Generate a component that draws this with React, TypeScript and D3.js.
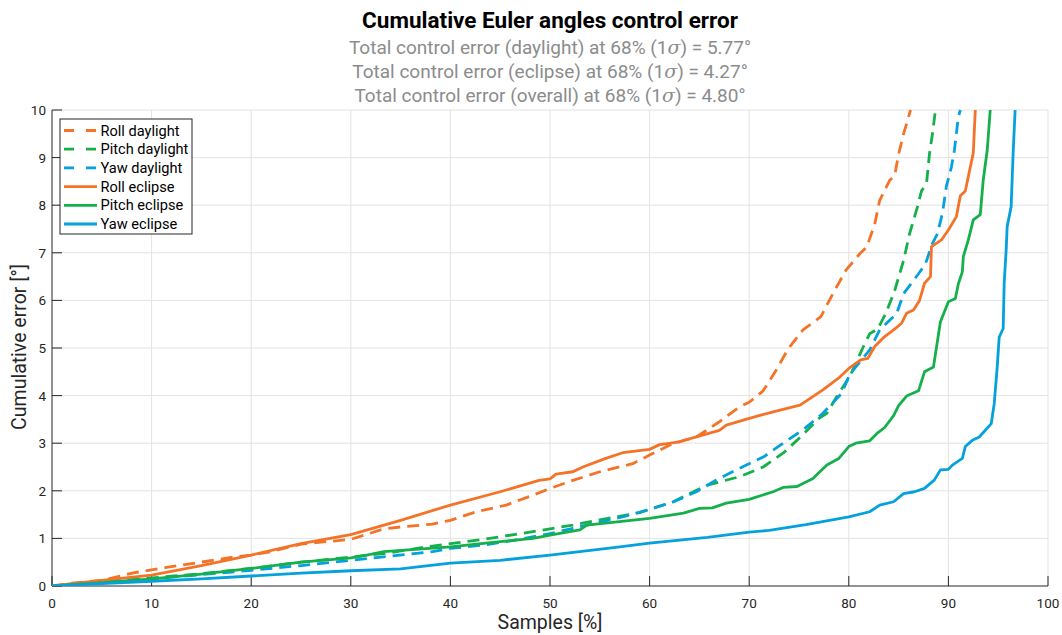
import React from "react";
import * as d3 from "d3";

type Pt = [number, number];

const xTicks = [0, 10, 20, 30, 40, 50, 60, 70, 80, 90, 100];
const yTicks = [0, 1, 2, 3, 4, 5, 6, 7, 8, 9, 10];

const titleText = "Cumulative Euler angles control error";
const subtitleLabels = ["daylight", "eclipse", "overall"];
const subtitleValues = ["5.77", "4.27", "4.80"];

const seriesNames = ["Roll daylight", "Pitch daylight", "Yaw daylight", "Roll eclipse", "Pitch eclipse", "Yaw eclipse"];

const rollDaylight: Pt[] = [[0,0],[2,0.06],[5,0.12],[8.3,0.28],[11.5,0.39],[14,0.47],[18,0.6],[20,0.65],[22,0.72],[25,0.88],[30,0.98],[33.3,1.2],[35,1.24],[38.2,1.3],[40,1.38],[42.6,1.56],[45.6,1.7],[48.3,1.91],[50,2.05],[52.3,2.22],[55,2.4],[58.3,2.57],[60,2.75],[62.4,3.0],[64.7,3.13],[67,3.45],[69,3.76],[70,3.86],[71.4,4.1],[72.7,4.53],[73.9,4.98],[75.4,5.38],[77.2,5.66],[78.4,6.14],[79.7,6.63],[81.1,6.98],[81.8,7.12],[82.6,7.6],[83.1,8.1],[84.1,8.52],[84.6,8.62],[85,9.07],[85.5,9.5],[86.2,10]];
const pitchDaylight: Pt[] = [[0,0],[5,0.08],[10,0.17],[15,0.26],[20,0.37],[25,0.5],[30,0.61],[33.3,0.68],[38.2,0.84],[40,0.89],[43.3,0.98],[46.4,1.08],[50,1.2],[52.3,1.28],[55,1.39],[59,1.54],[60,1.61],[62.4,1.77],[64,1.94],[65.8,2.12],[69.1,2.3],[71.4,2.5],[73.4,2.79],[75.2,3.14],[77,3.52],[77.8,3.63],[79,4.05],[80.1,4.4],[81.4,5.0],[82.1,5.3],[82.9,5.4],[83.7,5.72],[84.6,6.2],[85.5,6.84],[86.1,7.4],[86.9,7.97],[87.3,8.3],[87.8,8.45],[88.1,9.08],[88.4,9.5],[88.7,10]];
const yawDaylight: Pt[] = [[0,0],[5,0.07],[10,0.15],[15,0.24],[20,0.33],[25,0.43],[30,0.54],[34.9,0.65],[38.2,0.72],[40,0.79],[43.3,0.86],[46.4,0.96],[50,1.1],[52.3,1.21],[56,1.39],[57.6,1.47],[60,1.61],[62.4,1.77],[64.7,1.98],[66.7,2.23],[69.1,2.48],[71.5,2.72],[73.4,3.0],[75.4,3.28],[77.4,3.63],[79.3,4.05],[80.1,4.45],[82.1,4.96],[83.1,5.38],[84.8,5.72],[85.5,6.14],[86,6.28],[87,6.56],[87.7,6.77],[88.4,7.2],[88.9,7.4],[89.4,7.83],[89.8,8.4],[90.3,8.8],[90.6,9.15],[91,9.86],[91.2,10]];
const rollEclipse: Pt[] = [[0,0],[2,0.05],[5,0.12],[10,0.23],[15,0.43],[20,0.65],[25,0.89],[30,1.08],[35,1.38],[40,1.7],[45,1.98],[48.9,2.22],[50,2.25],[50.6,2.35],[52.3,2.4],[53.3,2.5],[55.6,2.68],[57.3,2.8],[60,2.87],[61,2.97],[63,3.03],[65.3,3.17],[67,3.27],[67.7,3.38],[70,3.52],[72.4,3.66],[75.1,3.8],[77.4,4.12],[79.1,4.39],[80,4.57],[81.2,4.75],[81.9,4.78],[82.6,5.03],[83.6,5.24],[84.5,5.38],[85.3,5.52],[85.8,5.73],[86.5,5.8],[87.1,6.0],[87.6,6.36],[88.2,6.5],[88.3,7.13],[89.3,7.27],[90,7.48],[90.8,7.76],[91.2,8.2],[91.7,8.3],[92,8.6],[92.5,9.1],[92.7,10]];
const pitchEclipse: Pt[] = [[0,0],[5,0.07],[10,0.15],[15,0.25],[20,0.37],[25,0.5],[30,0.59],[31.6,0.65],[33.3,0.72],[40,0.82],[45,0.93],[48.3,1.0],[50,1.07],[53,1.18],[53.7,1.28],[60,1.42],[63.4,1.53],[65,1.63],[66.3,1.64],[67.7,1.74],[70,1.82],[72.4,1.98],[73.4,2.07],[74.8,2.09],[76.4,2.26],[77.8,2.54],[79,2.68],[80,2.93],[80.7,3.0],[82.1,3.05],[82.8,3.2],[83.6,3.33],[84.5,3.58],[85,3.79],[85.8,3.99],[87,4.1],[87.6,4.5],[88.5,4.6],[89.2,5.55],[90,5.97],[90.7,6.04],[91,6.35],[91.4,6.6],[91.5,6.92],[92,7.27],[92.5,7.69],[93.2,7.8],[93.5,8.53],[93.9,9.16],[94.2,10]];
const yawEclipse: Pt[] = [[0,0],[5,0.05],[10,0.1],[15,0.15],[20,0.21],[25,0.27],[30,0.32],[35,0.36],[40,0.48],[45,0.54],[50,0.65],[56.6,0.81],[60,0.9],[65.8,1.02],[70,1.13],[72,1.17],[75.7,1.29],[80,1.45],[82.1,1.56],[83.1,1.7],[84.5,1.77],[85.5,1.94],[86.6,1.98],[87.6,2.05],[88.6,2.23],[89.2,2.44],[90,2.45],[90.4,2.54],[91.4,2.68],[91.7,2.93],[92.4,3.06],[93.1,3.13],[94.3,3.41],[94.6,3.83],[94.9,4.6],[95.1,5.23],[95.5,5.41],[95.6,6.36],[95.8,7.06],[95.9,7.55],[96.3,7.97],[96.5,9.1],[96.7,10]];

const ORANGE = "#F47328";
const GREEN = "#15B04B";
const BLUE = "#05A1DC";

const seriesData = [rollDaylight, pitchDaylight, yawDaylight, rollEclipse, pitchEclipse, yawEclipse];
const seriesColors = [ORANGE, GREEN, BLUE, ORANGE, GREEN, BLUE];
const seriesDashed = [true, true, true, false, false, false];

const W = 1062, H = 635;
const M = { left: 52, right: 1048, top: 110, bottom: 586 };
const FONT = "Roboto, 'Liberation Sans', Arial, sans-serif";
const AXC = "#262626";

export default function App() {
  const x = d3.scaleLinear().domain([0, 100]).range([M.left, M.right]);
  const y = d3.scaleLinear().domain([0, 10]).range([M.bottom, M.top]);
  const line = d3.line<Pt>().x(d => x(d[0])).y(d => y(d[1]));

  const legX = 60, legY = 119, legW = 132, legH = 115, rowH = 18.7;

  return (
    <svg width={W} height={H} style={{ position: "absolute", left: 0, top: 0, display: "block", background: "#fff" }} fontFamily={FONT}>
      <rect x={0} y={0} width={W} height={H} fill="#fff" />
      <defs>
        <clipPath id="plotclip">
          <rect x={M.left} y={M.top - 2} width={M.right - M.left + 2} height={M.bottom - M.top + 2} />
        </clipPath>
      </defs>
      <g stroke="#e3e3e3" strokeWidth={1}>
        {xTicks.filter(t => t > 0).map(t => (
          <line key={"gx" + t} x1={x(t)} x2={x(t)} y1={M.top} y2={M.bottom} />
        ))}
        {yTicks.filter(t => t > 0).map(t => (
          <line key={"gy" + t} x1={M.left} x2={M.right} y1={y(t)} y2={y(t)} />
        ))}
      </g>
      <g stroke={AXC} strokeWidth={1}>
        <line x1={M.left} x2={M.left} y1={M.top} y2={M.bottom} />
        <line x1={M.left} x2={M.right} y1={M.bottom} y2={M.bottom} />
        {xTicks.map(t => (
          <line key={"tx" + t} x1={x(t)} x2={x(t)} y1={M.bottom} y2={M.bottom - 10} />
        ))}
        {yTicks.map(t => (
          <line key={"ty" + t} x1={M.left} x2={M.left + 10} y1={y(t)} y2={y(t)} />
        ))}
      </g>
      <g fill={AXC} fontSize={13.5}>
        {xTicks.map(t => (
          <text key={"lx" + t} x={x(t)} y={M.bottom + 22} textAnchor="middle">{t}</text>
        ))}
        {yTicks.map(t => (
          <text key={"ly" + t} x={M.left - 6} y={y(t) + 5} textAnchor="end">{t}</text>
        ))}
      </g>
      <g clipPath="url(#plotclip)" fill="none" strokeWidth={2.8} strokeLinejoin="round">
        {seriesData.map((d, i) => (
          <path key={"s" + i} d={line(d) || ""} stroke={seriesColors[i]} strokeDasharray={seriesDashed[i] ? "12,7" : undefined} />
        ))}
      </g>
      <text x={550} y={28} textAnchor="middle" fontSize={22.5} fontWeight="bold" fill="#000">{titleText}</text>
      {subtitleLabels.map((lab, i) => (
        <text key={"st" + i} x={550} y={54 + i * 24} textAnchor="middle" fontSize={19} fill="#8c8c8c">
          {`Total control error (${lab}) at 68% (1`}
          <tspan fontStyle="italic" fontFamily="'DejaVu Serif', serif">σ</tspan>
          {`) = ${subtitleValues[i]}°`}
        </text>
      ))}
      <text x={550} y={629} textAnchor="middle" fontSize={19.5} fill={AXC}>Samples [%]</text>
      <text transform={`translate(26,347) rotate(-90)`} textAnchor="middle" fontSize={19.5} fill={AXC}>Cumulative error [°]</text>
      <g>
        <rect x={legX} y={legY} width={legW} height={legH} fill="#fff" stroke={AXC} strokeWidth={1} />
        {seriesNames.map((n, i) => {
          const cy = legY + 11.5 + i * rowH;
          return (
            <g key={"lg" + i}>
              <line x1={legX + 4} x2={legX + 37} y1={cy} y2={cy} stroke={seriesColors[i]} strokeWidth={2.8}
                strokeDasharray={seriesDashed[i] ? "10,12" : undefined} />
              <text x={legX + 40.5} y={cy + 5} fontSize={14.6} fill="#000">{n}</text>
            </g>
          );
        })}
      </g>
    </svg>
  );
}
